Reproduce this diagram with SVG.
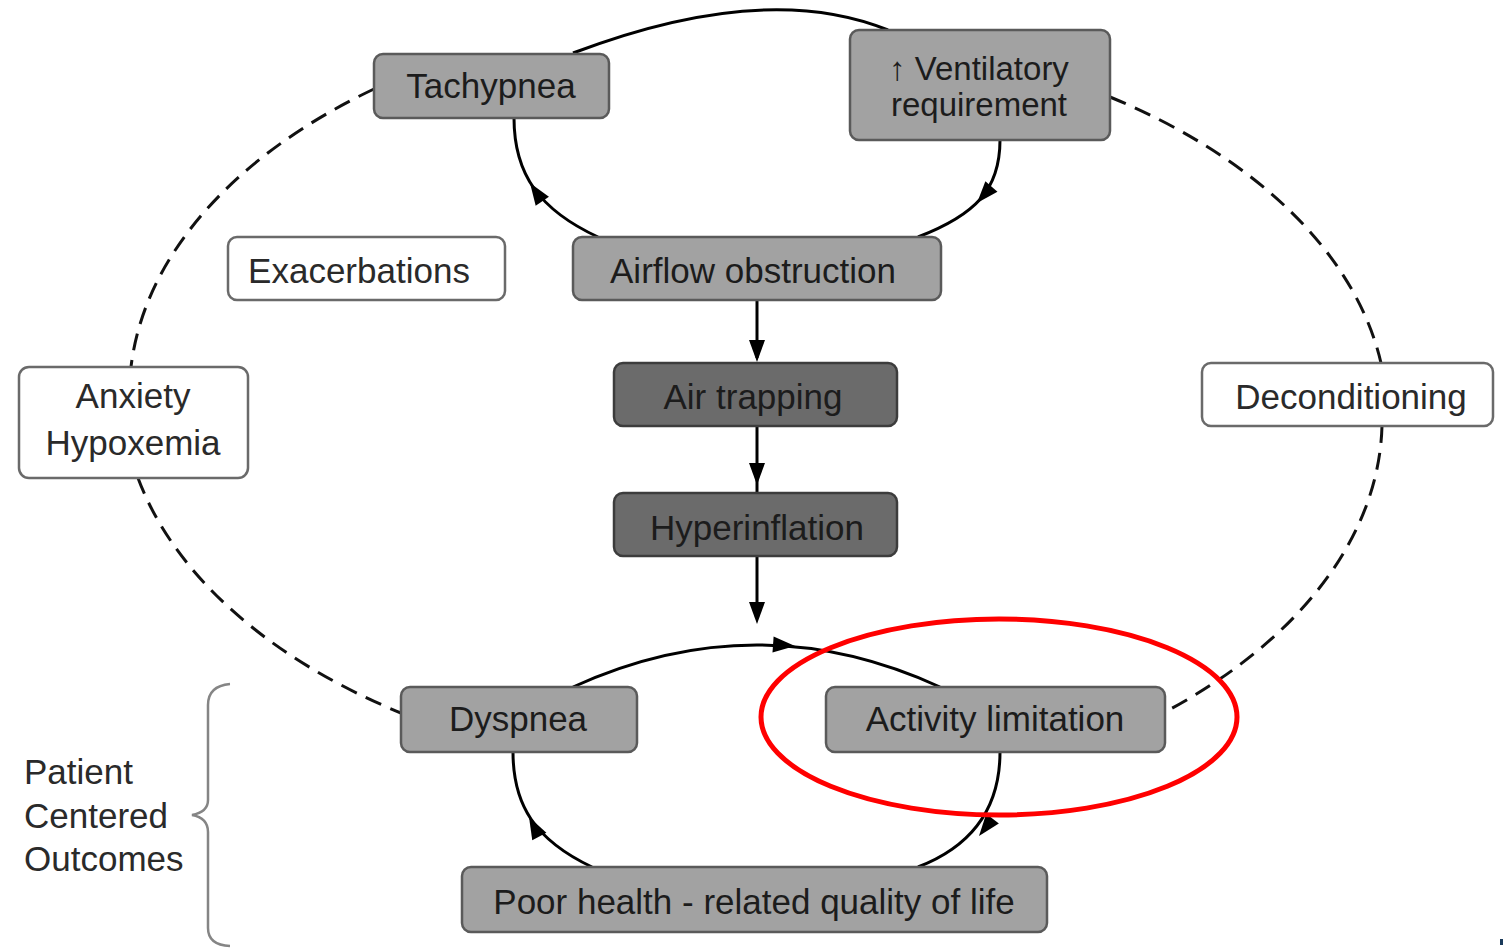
<svg xmlns="http://www.w3.org/2000/svg" xmlns:xlink="http://www.w3.org/1999/xlink" width="1503" height="948" viewBox="0 0 1503 948">
<defs>
<style>
.box{fill:#a2a2a2;stroke:#5a5a5a;stroke-width:2.5}
.dark{fill:#6b6b6b;stroke:#3c3c3c;stroke-width:2.5}
.white{fill:#ffffff;stroke:#6a6a6a;stroke-width:2.5}
.t{font-family:"Liberation Sans","DejaVu Sans",Arial,sans-serif;font-size:35px;fill:#1c1c1c;text-anchor:middle}
.tw{fill:#2a2a2a}
.solid{fill:none;stroke:#000;stroke-width:3}
.dash{fill:none;stroke:#111;stroke-width:3;stroke-dasharray:17 10}
.ah{fill:#000}
</style>
<path id="ah" d="M0,0 L-22,-8 L-22,8 Z"/>
</defs>
<rect width="1503" height="948" fill="#ffffff"/>

<g id="connectors">
  <path class="dash" d="M 374 89 A 625 386 0 0 0 131 367"/>
  <path class="dash" d="M 138 478 A 625 386 0 0 0 401 713"/>
  <path class="dash" d="M 1110 97 A 625 386 0 0 1 1381 363"/>
  <path class="dash" d="M 1382 426 A 625 386 0 0 1 1165 712"/>
  <path class="solid" d="M 573 53 Q 765 -20 888 30"/>
  <path class="solid" d="M 1000 140 C 1000 190 975 215 918 237"/>
  <use xlink:href="#ah" class="ah" transform="translate(977,203) rotate(131)"/>
  <path class="solid" d="M 514 118 C 514 175 540 210 598 237"/>
  <use xlink:href="#ah" class="ah" transform="translate(530,183) rotate(-124)"/>
  <path class="solid" d="M 757 300 L 757 358"/>
  <use xlink:href="#ah" class="ah" transform="translate(757,362) rotate(90)"/>
  <path class="solid" d="M 757 426 L 757 493"/>
  <use xlink:href="#ah" class="ah" transform="translate(757,485) rotate(90)"/>
  <path class="solid" d="M 757 556 L 757 610"/>
  <use xlink:href="#ah" class="ah" transform="translate(757,624) rotate(90)"/>
  <path class="solid" d="M 573 687 Q 757 603 940 687"/>
  <use xlink:href="#ah" class="ah" transform="translate(795,646) rotate(4)"/>
  <path class="solid" d="M 1000 752 C 1000 805 975 845 918 867"/>
  <use xlink:href="#ah" class="ah" transform="translate(979,836) rotate(128)"/>
  <path class="solid" d="M 513 752 C 513 805 535 840 592 867"/>
  <use xlink:href="#ah" class="ah" transform="translate(529,817) rotate(-118)"/>
</g>

<g id="node-tachypnea">
  <rect class="box" x="374" y="54" width="235" height="64" rx="9"/>
  <text class="t" x="491" y="98">Tachypnea</text>
</g>
<g id="node-ventilatory">
  <rect class="box" x="850" y="30" width="260" height="110" rx="9"/>
  <text class="t" x="979" y="80" style="font-size:33px">↑ Ventilatory</text>
  <text class="t" x="979" y="116" style="font-size:33px">requirement</text>
</g>
<g id="node-exacerbations">
  <rect class="white" x="228" y="237" width="277" height="63" rx="9"/>
  <text class="t tw" x="359" y="283">Exacerbations</text>
</g>
<g id="node-airflow">
  <rect class="box" x="573" y="237" width="368" height="63" rx="9"/>
  <text class="t" x="753" y="283">Airflow obstruction</text>
</g>
<g id="node-airtrapping">
  <rect class="dark" x="614" y="363" width="283" height="63" rx="9"/>
  <text class="t" x="753" y="409">Air trapping</text>
</g>
<g id="node-hyperinflation">
  <rect class="dark" x="614" y="493" width="283" height="63" rx="9"/>
  <text class="t" x="757" y="540">Hyperinflation</text>
</g>
<g id="node-anxiety">
  <rect class="white" x="19" y="367" width="229" height="111" rx="10"/>
  <text class="t tw" x="133" y="408">Anxiety</text>
  <text class="t tw" x="133" y="455">Hypoxemia</text>
</g>
<g id="node-deconditioning">
  <rect class="white" x="1202" y="363" width="291" height="63" rx="9"/>
  <text class="t tw" x="1351" y="409">Deconditioning</text>
</g>
<g id="node-dyspnea">
  <rect class="box" x="401" y="687" width="236" height="65" rx="9"/>
  <text class="t" x="518" y="731">Dyspnea</text>
</g>
<g id="node-activity">
  <rect class="box" x="826" y="687" width="339" height="65" rx="9"/>
  <text class="t" x="995" y="731">Activity limitation</text>
</g>
<g id="node-poorhealth">
  <rect class="box" x="462" y="867" width="585" height="65" rx="9"/>
  <text class="t" x="754" y="914">Poor health - related quality of life</text>
</g>

<g id="patient-outcomes">
  <path d="M 230 684 Q 208 686 208 705 L 208 800 Q 208 812 192 815 Q 208 818 208 832 L 208 928 Q 208 945 230 946" fill="none" stroke="#858585" stroke-width="2.5"/>
  <text class="t tw" x="24" y="784" style="text-anchor:start">Patient</text>
  <text class="t tw" x="24" y="828" style="text-anchor:start">Centered</text>
  <text class="t tw" x="24" y="871" style="text-anchor:start">Outcomes</text>
</g>

<ellipse id="highlight" cx="999" cy="717" rx="238" ry="98" fill="none" stroke="#ff0000" stroke-width="5"/>
<rect x="1500" y="939" width="3" height="6" fill="#1a3a5a"/>
</svg>
